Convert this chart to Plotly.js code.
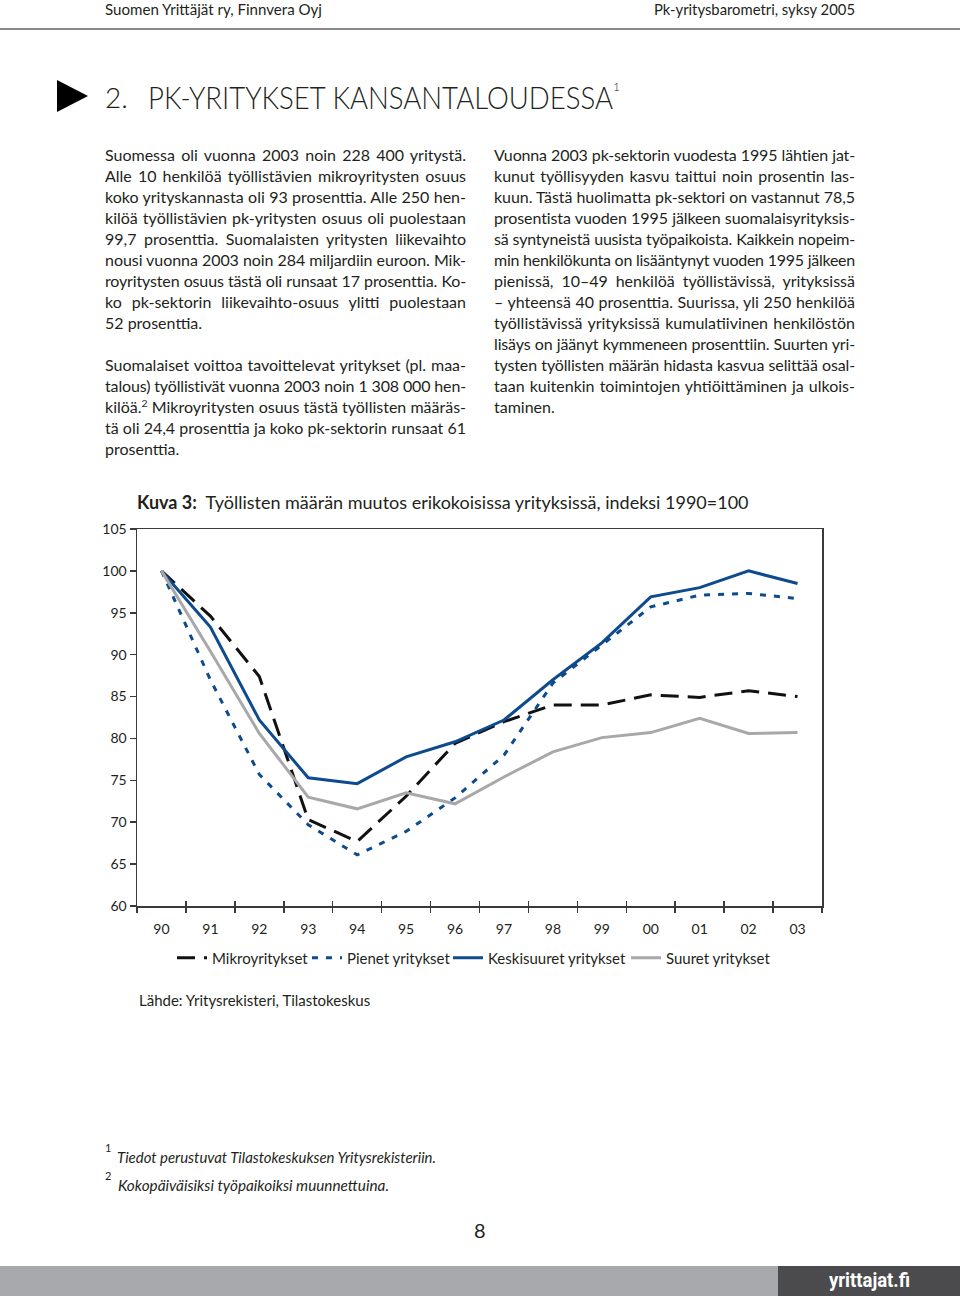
<!DOCTYPE html>
<html>
<head>
<meta charset="utf-8">
<script src="https://cdn.plot.ly/plotly-3.0.1.min.js"></script>
<style>
  html, body { margin:0; padding:0; background:#fff; }
  body { width:960px; height:1296px; position:relative; overflow:hidden; font-family:Lato, "Open Sans", sans-serif; color:#231f20; }
  #chart { position:absolute; left:0; top:0; width:960px; height:1296px; }
  .t { position:absolute; white-space:nowrap; z-index:2; }
  .ln { position:absolute; width:361px; height:21px; line-height:21px; font-size:16px; z-index:2; white-space:normal; overflow:visible; }
  .j { text-align:justify; text-align-last:justify; }
  .fit { transform-origin:0 50%; }
  sup { font-size:0.65em; line-height:0; }
</style>
</head>
<body>
<div id="chart"></div>

<!-- header -->
<div class="t fit" data-w="217" style="left:105px;top:-1px;font-size:15px;line-height:20px;">Suomen Yrittäjät ry, Finnvera Oyj</div>
<div class="t fit" data-w="201" style="left:654px;top:-1px;font-size:15px;line-height:20px;">Pk-yritysbarometri, syksy 2005</div>
<div style="position:absolute;left:0;top:28px;width:960px;height:2px;background:#8a8a8a;"></div>

<!-- section heading -->
<div style="position:absolute;left:57px;top:80px;width:0;height:0;border-top:16px solid transparent;border-bottom:16px solid transparent;border-left:31px solid #000;"></div>
<div class="t" style="left:105px;top:80px;font-size:28px;line-height:34px;font-weight:300;">2.</div>
<div class="t fit" data-w="465" style="left:148px;top:80px;font-size:32px;line-height:34px;font-weight:300;">PK-YRITYKSET KANSANTALOUDESSA</div>
<div class="t" style="left:613px;top:80px;font-size:12px;line-height:14px;font-weight:300;">1</div>

<!-- columns -->
<div id="colL"></div>
<div id="colR"></div>

<!-- footnotes -->
<div class="t" style="left:105px;top:1141px;font-size:11px;line-height:14px;">1</div>
<div class="t fit" data-w="319" style="left:117px;top:1146px;font-size:15px;line-height:22px;font-style:italic;">Tiedot perustuvat Tilastokeskuksen Yritysrekisteriin.</div>
<div class="t" style="left:105px;top:1169px;font-size:11px;line-height:14px;">2</div>
<div class="t fit" data-w="271" style="left:118px;top:1174px;font-size:15px;line-height:22px;font-style:italic;">Kokopäiväisiksi työpaikoiksi muunnettuina.</div>

<div class="t" style="left:474px;top:1218px;font-size:20px;line-height:24px;">8</div>

<!-- bottom band -->
<div style="position:absolute;left:0;top:1266px;width:960px;height:30px;background:#a7a9ac;"></div>
<div style="position:absolute;left:778px;top:1266px;width:182px;height:30px;background:#4b4b4d;"></div>
<div class="t fit" data-w="81" style="left:829px;top:1266px;font-size:21px;line-height:28px;font-weight:bold;color:#fff;font-family:Roboto, sans-serif;">yrittajat.fi</div>

<script>
// ---------------- chart data ----------------
const years = ['90','91','92','93','94','95','96','97','98','99','00','01','02','03'];
const mikroyritykset = [100, 94.6, 87.4, 70.3, 67.7, 73.1, 79.4, 82.0, 84.0, 84.0, 85.2, 84.9, 85.7, 85.0];
const pienetYritykset = [100, 87.0, 75.7, 69.7, 66.1, 68.9, 72.9, 78.0, 86.6, 91.2, 95.7, 97.1, 97.3, 96.7];
const keskisuuretYritykset = [100, 93.3, 82.2, 75.3, 74.6, 77.8, 79.6, 82.2, 87.0, 91.4, 96.9, 98.0, 100.0, 98.5];
const suuretYritykset = [100, 90.4, 80.6, 73.0, 71.6, 73.5, 72.2, 75.4, 78.4, 80.1, 80.7, 82.4, 80.6, 80.7];
const seriesNames = ['Mikroyritykset', 'Pienet yritykset', 'Keskisuuret yritykset', 'Suuret yritykset'];
const yTickVals = [60, 65, 70, 75, 80, 85, 90, 95, 100, 105];
const chartTitle = '<b>Kuva 3:</b>  Työllisten määrän muutos erikokoisissa yrityksissä, indeksi 1990=100';
const sourceText = 'Lähde: Yritysrekisteri, Tilastokeskus';

// ---------------- page text ----------------
const leftLines = [
  ['Suomessa oli vuonna 2003 noin 228 400 yritystä.', 1],
  ['Alle 10 henkilöä työllistävien mikroyritysten osuus', 1],
  ['koko yrityskannasta oli 93 prosenttia. Alle 250 hen-', 1],
  ['kilöä työllistävien pk-yritysten osuus oli puolestaan', 1],
  ['99,7 prosenttia. Suomalaisten yritysten liikevaihto', 1],
  ['nousi vuonna 2003 noin 284 miljardiin euroon. Mik-', 1],
  ['royritysten osuus tästä oli runsaat 17 prosenttia. Ko-', 1],
  ['ko pk-sektorin liikevaihto-osuus ylitti puolestaan', 1],
  ['52 prosenttia.', 0],
  ['', 0],
  ['Suomalaiset voittoa tavoittelevat yritykset (pl. maa-', 1],
  ['talous) työllistivät vuonna 2003 noin 1 308 000 hen-', 1],
  ['kilöä.<sup>2</sup> Mikroyritysten osuus tästä työllisten määräs-', 1],
  ['tä oli 24,4 prosenttia ja koko pk-sektorin runsaat 61', 1],
  ['prosenttia.', 0]
];
const rightLines = [
  ['Vuonna 2003 pk-sektorin vuodesta 1995 lähtien jat-', 1],
  ['kunut työllisyyden kasvu taittui noin prosentin las-', 1],
  ['kuun. Tästä huolimatta pk-sektori on vastannut 78,5', 1],
  ['prosentista vuoden 1995 jälkeen suomalaisyrityksis-', 1],
  ['sä syntyneistä uusista työpaikoista. Kaikkein nopeim-', 1],
  ['min henkilökunta on lisääntynyt vuoden 1995 jälkeen', 1],
  ['pienissä, 10–49 henkilöä työllistävissä, yrityksissä', 1],
  ['– yhteensä 40 prosenttia. Suurissa, yli 250 henkilöä', 1],
  ['työllistävissä yrityksissä kumulatiivinen henkilöstön', 1],
  ['lisäys on jäänyt kymmeneen prosenttiin. Suurten yri-', 1],
  ['tysten työllisten määrän hidasta kasvua selittää osal-', 1],
  ['taan kuitenkin toimintojen yhtiöittäminen ja ulkois-', 1],
  ['taminen.', 0]
];

function addLines(lines, left, parentId) {
  const parent = document.getElementById(parentId);
  lines.forEach((l, i) => {
    if (!l[0]) return;
    const d = document.createElement('div');
    d.className = 'ln' + (l[1] ? ' j' : '');
    d.style.left = left + 'px';
    d.style.top = (143.5 + i * 21) + 'px';
    d.innerHTML = l[0];
    parent.appendChild(d);
  });
}
addLines(leftLines, 105, 'colL');
addLines(rightLines, 494, 'colR');

document.querySelectorAll('.ln').forEach(el => {
  let ls = 0;
  while (el.scrollHeight > 26 && ls > -1.5) { ls -= 0.05; el.style.letterSpacing = ls + 'px'; }
});
document.querySelectorAll('.fit').forEach(el => {
  const w = parseFloat(el.dataset.w);
  const actual = el.getBoundingClientRect().width;
  if (actual > 0) el.style.transform = 'scaleX(' + (w / actual) + ')';
});

// ---------------- plot ----------------
const fontFam = 'Lato, "Open Sans", sans-serif';
const blue = '#0d4a8e';
const traces = [
  {x: years, y: mikroyritykset, name: seriesNames[0], type: 'scatter', mode: 'lines', legend: 'legend',
   line: {color: '#111111', width: 3, dash: '18px,9px'}},
  {x: years, y: pienetYritykset, name: seriesNames[1], type: 'scatter', mode: 'lines', legend: 'legend2',
   line: {color: blue, width: 3, dash: '6px,8px'}},
  {x: years, y: suuretYritykset, name: seriesNames[3], type: 'scatter', mode: 'lines', xaxis: 'x2', legend: 'legend4',
   line: {color: '#a8a8a8', width: 3}},
  {x: years, y: keskisuuretYritykset, name: seriesNames[2], type: 'scatter', mode: 'lines', legend: 'legend3',
   line: {color: blue, width: 3}}
];

const W = 960, H = 1296;
const plotL = 136.7, plotR = 822, plotT = 529, plotB = 906;
function legendAt(px) {
  return {orientation: 'h', xref: 'container', yref: 'container', x: px / W, xanchor: 'left',
          y: 1 - 958 / H, yanchor: 'middle', font: {size: 15, color: '#231f20'},
          itemwidth: 30, bgcolor: 'rgba(0,0,0,0)'};
}
const layout = {
  width: W, height: H,
  margin: {l: plotL, r: W - plotR, t: plotT, b: H - plotB, pad: 0},
  paper_bgcolor: 'rgba(0,0,0,0)', plot_bgcolor: 'rgba(0,0,0,0)',
  font: {family: fontFam, size: 14, color: '#231f20'},
  showlegend: true,
  title: {text: chartTitle, xref: 'container', yref: 'container', x: 137 / W, xanchor: 'left',
          y: 1 - 503 / H, yanchor: 'middle', font: {family: fontFam, size: 18, color: '#231f20'}},
  xaxis: {type: 'category', range: [-0.5, 13.5], showgrid: false, zeroline: false,
          showline: true, linecolor: '#3a3a3a', linewidth: 1.5, mirror: true,
          ticks: 'outside', tickson: 'boundaries', ticklen: 5, tickwidth: 1.5, tickcolor: '#3a3a3a',
          ticklabelstandoff: 10, tickfont: {size: 14, color: '#231f20'}},
  xaxis2: {type: 'category', range: [-0.5, 13.5], overlaying: 'x', anchor: 'y', side: 'bottom',
           showgrid: false, zeroline: false, showline: false, showticklabels: false,
           ticks: 'inside', tickson: 'boundaries', ticklen: 5, tickwidth: 1.5, tickcolor: '#3a3a3a'},
  yaxis: {range: [60, 105], tickvals: yTickVals, showgrid: false, zeroline: false,
          showline: true, linecolor: '#3a3a3a', linewidth: 1.5, mirror: true,
          ticks: 'outside', ticklen: 6, tickwidth: 1.5, tickcolor: '#3a3a3a',
          tickfont: {size: 14, color: '#231f20'}},
  legend: legendAt(172),
  legend2: legendAt(307),
  legend3: legendAt(448),
  legend4: legendAt(626),
  annotations: [
    {text: sourceText, xref: 'paper', yref: 'paper', x: (137 - plotL) / (plotR - plotL),
     y: (plotB - 1000) / (plotB - plotT), xanchor: 'left', yanchor: 'middle', showarrow: false,
     font: {size: 15, color: '#231f20'}}
  ]
};
Plotly.newPlot('chart', traces, layout, {staticPlot: true, displayModeBar: false});
</script>
</body>
</html>
